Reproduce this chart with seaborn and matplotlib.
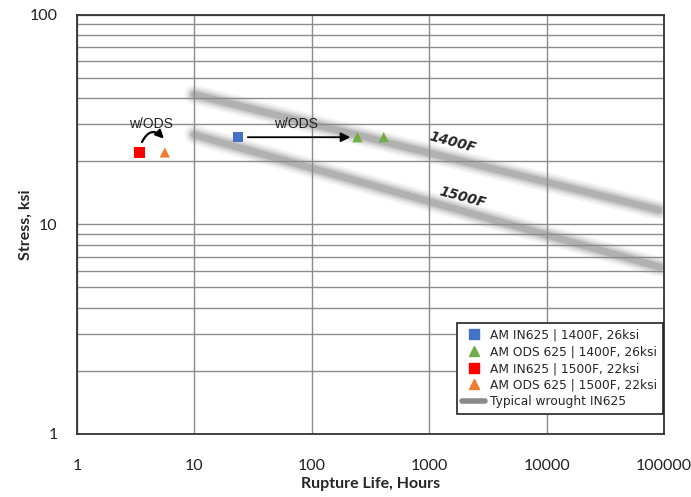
import numpy as np
import pandas as pd
import seaborn as sns
import matplotlib.pyplot as plt
from matplotlib.lines import Line2D
from matplotlib.ticker import FixedLocator, NullFormatter, FixedFormatter

# rupture test points
labels = ["AM IN625 | 1400F, 26ksi", "AM ODS 625 | 1400F, 26ksi", "AM ODS 625 | 1400F, 26ksi",
          "AM IN625 | 1500F, 22ksi", "AM ODS 625 | 1500F, 22ksi"]
life_hr = [23.5, 245, 410, 3.4, 5.6]
stress_ksi = [26, 26, 26, 22, 22]

# typical wrought IN625 bands (end points)
band_1400_life = [10, 90000]
band_1400_stress = [41.5, 11.7]
band_1500_life = [10, 92000]
band_1500_stress = [26.7, 6.25]

legend_order = ["AM IN625 | 1400F, 26ksi", "AM ODS 625 | 1400F, 26ksi",
                "AM IN625 | 1500F, 22ksi", "AM ODS 625 | 1500F, 22ksi"]
colors = {"AM IN625 | 1400F, 26ksi": "#4472C4", "AM ODS 625 | 1400F, 26ksi": "#70AD47",
          "AM IN625 | 1500F, 22ksi": "#FF0000", "AM ODS 625 | 1500F, 22ksi": "#ED7D31"}
markers = {"AM IN625 | 1400F, 26ksi": "s", "AM ODS 625 | 1400F, 26ksi": "^",
           "AM IN625 | 1500F, 22ksi": "s", "AM ODS 625 | 1500F, 22ksi": "^"}

df = pd.DataFrame({"series": labels, "life": life_hr, "stress": stress_ksi})

sns.set_style("white")
plt.rcParams['font.family'] = ['Lato', 'DejaVu Sans']

fig = plt.figure(figsize=(6.91, 4.97), dpi=100)
ax = fig.add_axes([0.1114, 0.1268, 0.8495, 0.8440])
ax.set_xscale("log")
ax.set_yscale("log")

# blurred grey bands
for xs, ys in [(band_1400_life, band_1400_stress), (band_1500_life, band_1500_stress)]:
    for lw, a in [(14, 0.1), (11, 0.15), (8, 0.25), (5, 0.4)]:
        ax.plot(xs, ys, color="#8a8a8a", lw=lw, alpha=a, solid_capstyle="round", zorder=2)

sns.scatterplot(data=df, x="life", y="stress", hue="series", style="series",
                palette=colors, markers=markers, s=55, linewidth=0,
                legend=False, ax=ax, zorder=4)

ax.set_xlim(1, 100000)
ax.set_ylim(1, 100)

# grid: major decades on x, major+minor on y
ax.xaxis.set_major_locator(FixedLocator([1, 10, 100, 1000, 10000, 100000]))
ax.xaxis.set_major_formatter(FixedFormatter(["1", "10", "100", "1000", "10000", "100000"]))
ax.xaxis.set_minor_locator(FixedLocator([]))
ax.yaxis.set_major_locator(FixedLocator([1, 10, 100]))
ax.yaxis.set_major_formatter(FixedFormatter(["1", "10", "100"]))
yminor = [m * d for d in (1, 10) for m in range(2, 10)]
ax.yaxis.set_minor_locator(FixedLocator(yminor))
ax.yaxis.set_minor_formatter(NullFormatter())
ax.grid(True, which="major", color="#8c8c8c", lw=1.0, zorder=1)
ax.grid(True, which="minor", axis="y", color="#8c8c8c", lw=1.0, zorder=1)
ax.tick_params(which="both", length=0, labelsize=11.5, colors="#222222")
ax.tick_params(axis="x", pad=18)
ax.tick_params(axis="y", pad=14)
for sp in ax.spines.values():
    sp.set_color("#333333")
    sp.set_linewidth(1.3)

ax.set_xlabel("Rupture Life, Hours", fontsize=11.5, fontweight="bold", labelpad=3)
ax.set_ylabel("Stress, ksi", fontsize=11.5, fontweight="bold", labelpad=-2)

# band labels
ax.text(1590, 24.5, "1400F", rotation=-15, fontsize=10, fontweight="bold",
        fontstyle="italic", family="DejaVu Sans", ha="center", va="center", zorder=5)
ax.text(1940, 13.5, "1500F", rotation=-15, fontsize=10, fontweight="bold",
        fontstyle="italic", family="DejaVu Sans", ha="center", va="center", zorder=5)

# w/ODS arrows
ax.annotate("", xy=(225, 26), xytext=(27, 26),
            arrowprops=dict(arrowstyle="-|>", color="black", lw=1.3, mutation_scale=14), zorder=5)
ax.text(73, 30.2, "w/ODS", fontsize=10, family="Liberation Sans", ha="center", va="center", color="#222222")
ax.annotate("", xy=(5.7, 25.0), xytext=(3.5, 24.0),
            arrowprops=dict(arrowstyle="-|>", color="black", lw=1.6, mutation_scale=12,
                            connectionstyle="arc3,rad=-0.8"), zorder=5)
ax.text(4.3, 30.2, "w/ODS", fontsize=10, family="Liberation Sans", ha="center", va="center", color="#222222")

handles = [Line2D([], [], ls="none", marker=markers[k], color=colors[k], markersize=7.5) for k in legend_order]
handles.append(Line2D([], [], color="#8a8a8a", lw=4))
leg = ax.legend(handles, legend_order + ["Typical wrought IN625"], loc="lower right",
                prop={"family": "DejaVu Sans", "size": 8.8}, frameon=True, fancybox=False,
                edgecolor="#222222", framealpha=1, handlelength=1.9, handletextpad=0.4,
                labelspacing=0.3, borderpad=0.45, borderaxespad=0,
                bbox_to_anchor=(0.998, 0.048))
leg.get_frame().set_linewidth(1.2)
leg.set_zorder(6)

fig.savefig("out.png", dpi=100)
